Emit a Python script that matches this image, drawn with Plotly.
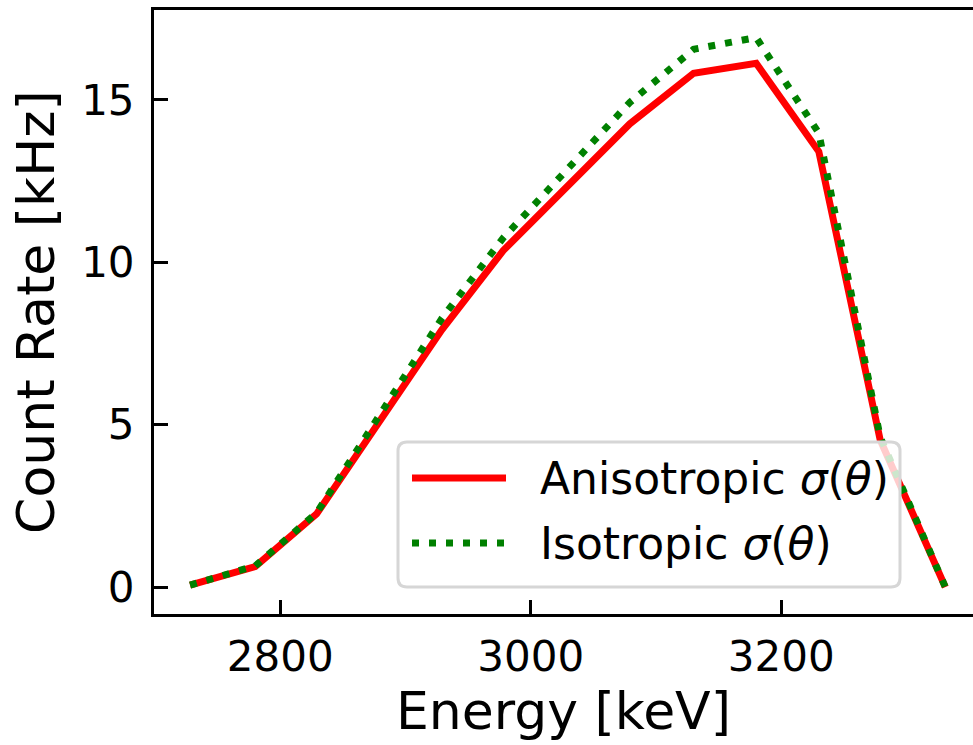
import plotly.graph_objects as go

# ---- data ----
energy_aniso = [2728, 2780, 2829, 2929, 2978, 3079, 3130, 3180, 3230, 3279, 3331]
rate_aniso = [0.06, 0.63, 2.25, 7.92, 10.36, 14.26, 15.82, 16.13, 13.41, 4.53, 0.0]

energy_iso = [2728, 2780, 2829, 2929, 2978, 3079, 3130, 3180, 3230, 3279, 3331]
rate_iso = [0.06, 0.65, 2.28, 8.27, 10.75, 14.92, 16.56, 16.92, 13.98, 4.62, 0.0]

label_aniso = "Anisotropic <i>σ</i>(<i>θ</i>)"
label_iso = "Isotropic <i>σ</i>(<i>θ</i>)"

x_ticks = [2800, 3000, 3200]
y_ticks = [0, 5, 10, 15]

RED = "#ff0000"
GREEN = "#008000"
DOT = "7px,10px"
FONT = "DejaVu Sans"

W, H = 973, 745
L, R, T, B = 154, 0, 10, 131
PW, PH = W - L - R, H - T - B


def px(xp):
    return (xp - L) / PW


def py(yp):
    return (H - B - yp) / PH


fig = go.Figure()
fig.add_trace(go.Scatter(x=energy_aniso, y=rate_aniso, mode="lines", name=label_aniso,
                         line=dict(color=RED, width=7), showlegend=False))
fig.add_trace(go.Scatter(x=energy_iso, y=rate_iso, mode="lines", name=label_iso,
                         line=dict(color=GREEN, width=7, dash=DOT), showlegend=False))

# ---- manual legend (matplotlib style) ----
x0, x1, y0, y1, r = 398, 900, 442, 587, 9
path = (f"M{px(x0 + r)},{py(y0)} L{px(x1 - r)},{py(y0)} Q{px(x1)},{py(y0)} {px(x1)},{py(y0 + r)} "
        f"L{px(x1)},{py(y1 - r)} Q{px(x1)},{py(y1)} {px(x1 - r)},{py(y1)} "
        f"L{px(x0 + r)},{py(y1)} Q{px(x0)},{py(y1)} {px(x0)},{py(y1 - r)} "
        f"L{px(x0)},{py(y0 + r)} Q{px(x0)},{py(y0)} {px(x0 + r)},{py(y0)} Z")
fig.add_shape(type="path", path=path, xref="paper", yref="paper", layer="above",
              fillcolor="rgba(255,255,255,0.8)", line=dict(color="#d6d6d6", width=3))
legend_rows = [(label_aniso, RED, "solid", 478), (label_iso, GREEN, DOT, 543)]
for text, color, dash, yrow in legend_rows:
    fig.add_shape(type="line", xref="paper", yref="paper", layer="above",
                  x0=px(412), x1=px(506), y0=py(yrow), y1=py(yrow),
                  line=dict(color=color, width=7, dash=dash))
    fig.add_annotation(x=px(538), y=py(yrow), xref="paper", yref="paper", text=text,
                       showarrow=False, xanchor="left", yanchor="middle",
                       font=dict(family=FONT, size=44, color="black"))

fig.update_layout(
    width=W, height=H,
    margin=dict(l=L, r=R, t=T, b=B),
    paper_bgcolor="white", plot_bgcolor="white",
    font=dict(family=FONT, color="black"),
    showlegend=False,
)
fig.update_xaxes(
    range=[2699.2, 3353.1], tickvals=x_ticks, ticktext=[str(v) for v in x_ticks],
    showgrid=False, zeroline=False,
    showline=True, linecolor="black", linewidth=3, mirror=True,
    ticks="inside", ticklen=14, tickwidth=3, tickcolor="black",
    tickfont=dict(family=FONT, size=42), ticklabelstandoff=4,
    title=dict(text="Energy [keV]", font=dict(family=FONT, size=52), standoff=10),
)
fig.update_yaxes(
    range=[-0.83, 17.77], tickvals=y_ticks, ticktext=[str(v) for v in y_ticks],
    showgrid=False, zeroline=False,
    showline=True, linecolor="black", linewidth=3, mirror=False,
    ticks="inside", ticklen=14, tickwidth=3, tickcolor="black",
    tickfont=dict(family=FONT, size=42), ticklabelstandoff=8,
    title=dict(text="Count Rate [kHz]", font=dict(family=FONT, size=52), standoff=10),
)

fig.write_html("out.html")
